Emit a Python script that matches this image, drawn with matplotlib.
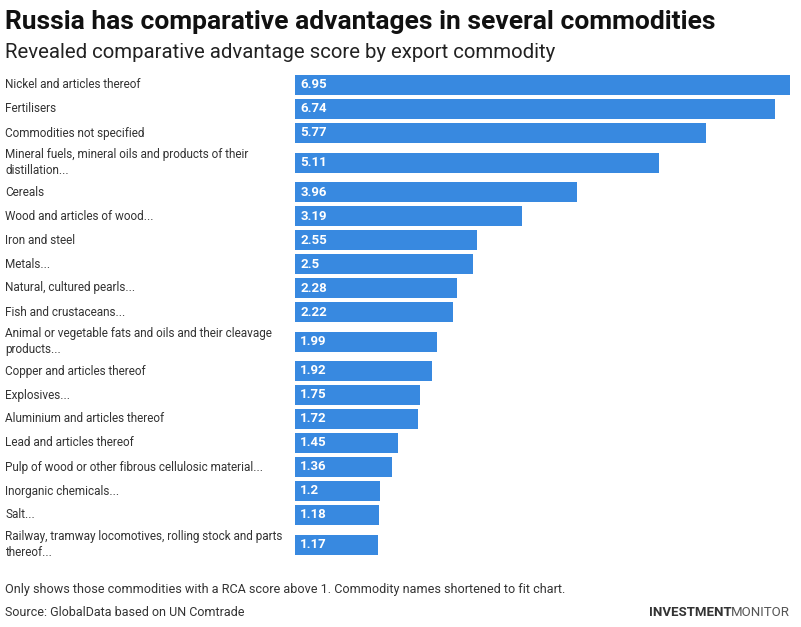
import matplotlib
matplotlib.use('Agg')
import matplotlib.pyplot as plt
from matplotlib.transforms import blended_transform_factory

categories = [
    "Nickel and articles thereof",
    "Fertilisers",
    "Commodities not specified",
    "Mineral fuels, mineral oils and products of their\ndistillation...",
    "Cereals",
    "Wood and articles of wood...",
    "Iron and steel",
    "Metals...",
    "Natural, cultured pearls...",
    "Fish and crustaceans...",
    "Animal or vegetable fats and oils and their cleavage\nproducts...",
    "Copper and articles thereof",
    "Explosives...",
    "Aluminium and articles thereof",
    "Lead and articles thereof",
    "Pulp of wood or other fibrous cellulosic material...",
    "Inorganic chemicals...",
    "Salt...",
    "Railway, tramway locomotives, rolling stock and parts\nthereof...",
]
values = [6.95, 6.74, 5.77, 5.11, 3.96, 3.19, 2.55, 2.5, 2.28, 2.22,
          1.99, 1.92, 1.75, 1.72, 1.45, 1.36, 1.2, 1.18, 1.17]

title = "Russia has comparative advantages in several commodities"
subtitle = "Revealed comparative advantage score by export commodity"
note = "Only shows those commodities with a RCA score above 1. Commodity names shortened to fit chart."
source = "Source: GlobalData based on UN Comtrade"

W, H = 801, 627
plt.rcParams['font.family'] = ['Roboto', 'DejaVu Sans']

BAR = '#3889e0'
TXT = '#333333'

fig = plt.figure(figsize=(W / 100, H / 100), dpi=100)
fig.patch.set_facecolor('white')

# row layout (pixel units)
single, double = 24, 35
top0 = 73
tops = []
y = top0
for c in categories:
    h = double if '\n' in c else single
    tops.append((y, h))
    y += h
bottom = y

ax = fig.add_axes([295 / W, 1 - bottom / H, (790 - 295) / W, (bottom - top0) / H])
ax.set_xlim(0, max(values))
ax.set_ylim(bottom, top0)
ax.axis('off')

centers = [t + h / 2 for t, h in tops]
ax.barh(centers, values, height=20, color=BAR)

tr = blended_transform_factory(fig.transFigure, ax.transData)
for c, v, cy in zip(categories, values, centers):
    ax.annotate(f"{v:g}", xy=(0, cy), xytext=(3.8, 0), textcoords='offset points',
                ha='left', va='center', color='white', fontsize=9.5, fontweight='bold')
    fig.text(5 / W, cy, c, transform=tr, ha='left', va='center', fontsize=8.5,
             color=TXT, linespacing=1.3)

fig.text(5 / W, 1 - 22 / H, title, ha='left', va='center', fontsize=19,
         fontweight='bold', color='#111111')
fig.text(5 / W, 1 - 53 / H, subtitle, ha='left', va='center', fontsize=14.7,
         color='#222222')
fig.text(5 / W, 1 - 590 / H, note, ha='left', va='center', fontsize=9.1, color=TXT)
fig.text(5 / W, 1 - 613 / H, source, ha='left', va='center', fontsize=9, color=TXT)

t2 = fig.text(790 / W, 1 - 613 / H, "MONITOR", ha='right', va='center', fontsize=9.5,
              color='#555555')
fig.canvas.draw()
bb = t2.get_window_extent()
fig.text(bb.x0 / W, 1 - 613 / H, "INVESTMENT", ha='right', va='center', fontsize=9.5,
         fontweight='bold', color='#333333')

fig.savefig('out.png', dpi=100, facecolor='white')
